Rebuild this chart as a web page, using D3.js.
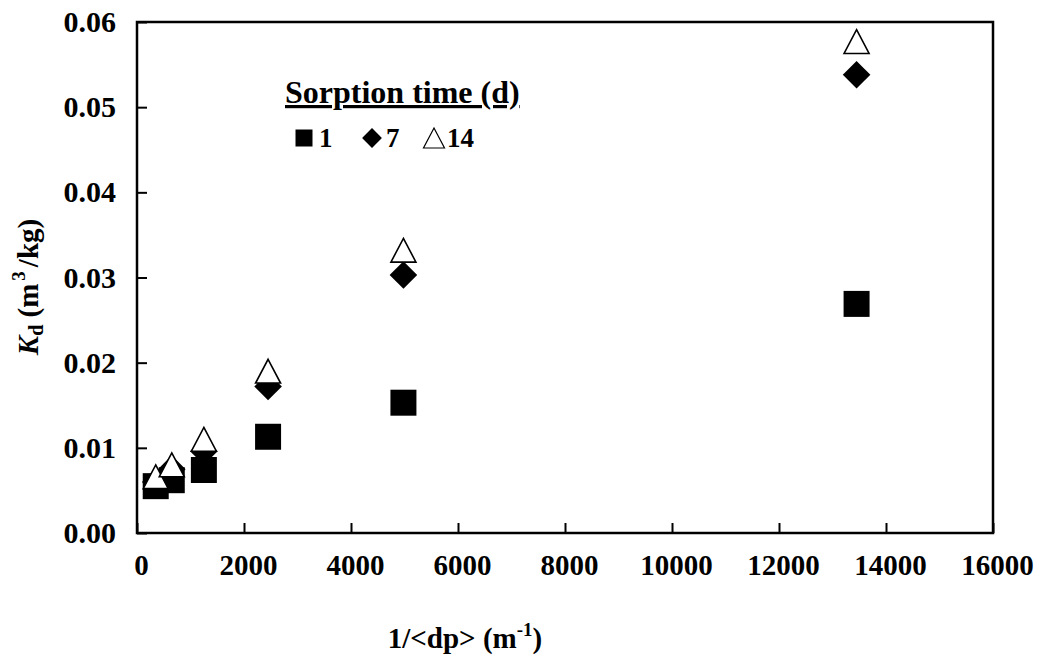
<!DOCTYPE html>
<html lang="en">
<head>
    <meta charset="UTF-8">
    <title>Kd vs 1/dp</title>
    <script src="https://d3js.org/d3.v7.min.js"></script>
    <style>
        body { margin: 0; background: #fff; }
        text { font-family: "Liberation Serif", "Times New Roman", serif; font-weight: bold; fill: #000; }
    </style>
</head>
<body>
    <div id="chart"></div>

    <script>
        // data
        var invDp = [350, 650, 1250, 2450, 4980, 13450];
        var kd1  = [0.0055, 0.0062, 0.0074, 0.0113, 0.0153, 0.0269];
        var kd7  = [0.0060, 0.0075, 0.0096, 0.0172, 0.0303, 0.0538];
        var kd14 = [0.0066, 0.0080, 0.0110, 0.0190, 0.0332, 0.0577];
        var xTicks = [0, 2000, 4000, 6000, 8000, 10000, 12000, 14000, 16000];
        var yTicks = [0, 0.01, 0.02, 0.03, 0.04, 0.05, 0.06];

        var W = 1038, H = 663;
        var margin = {top: 22, right: 45, bottom: 130, left: 137};
        var width = W - margin.left - margin.right,
            height = H - margin.top - margin.bottom;

        var svg = d3.select("#chart").append("svg")
            .attr("width", W)
            .attr("height", H);

        var g = svg.append("g")
            .attr("transform", "translate(" + margin.left + "," + margin.top + ")");

        var x = d3.scaleLinear().domain([0, 16000]).range([0, width]);
        var y = d3.scaleLinear().domain([0, 0.06]).range([height, 0]);

        // x axis, ticks pointing inward
        var xAxis = g.append("g")
            .attr("transform", "translate(0," + height + ")")
            .call(d3.axisBottom(x).tickValues(xTicks).tickSizeInner(-10).tickSizeOuter(0)
                .tickPadding(20).tickFormat(d3.format("d")));
        xAxis.select(".domain").remove();
        xAxis.selectAll(".tick line").attr("stroke-width", 2);
        xAxis.selectAll(".tick text").style("font-size", "29px").attr("dx", 4).attr("dy", "0.75em");

        var yAxis = g.append("g")
            .call(d3.axisLeft(y).tickValues(yTicks).tickSizeInner(-10).tickSizeOuter(0)
                .tickPadding(21).tickFormat(d3.format(".2f")));
        yAxis.select(".domain").remove();
        yAxis.selectAll(".tick line").attr("stroke-width", 2);
        yAxis.selectAll(".tick text").style("font-size", "30px");

        // frame
        g.append("rect")
            .attr("width", width)
            .attr("height", height)
            .attr("fill", "none")
            .attr("stroke", "#000")
            .attr("stroke-width", 2.5);

        function tri(s) {
            var h = s * 0.95;
            return "M0," + (-h / 2) + "L" + (s / 2) + "," + (h / 2) + "L" + (-s / 2) + "," + (h / 2) + "Z";
        }
        var squarePath = d3.symbol().type(d3.symbolSquare).size(26 * 26)();
        var diamondPath = d3.symbol().type(d3.symbolSquare).size(19.5 * 19.5)();

        g.selectAll(".s1").data(invDp).enter().append("path")
            .attr("class", "s1")
            .attr("d", squarePath)
            .attr("transform", function(d, i) { return "translate(" + x(d) + "," + y(kd1[i]) + ")"; })
            .attr("fill", "#000");

        g.selectAll(".s7").data(invDp).enter().append("path")
            .attr("class", "s7")
            .attr("d", diamondPath)
            .attr("transform", function(d, i) { return "translate(" + x(d) + "," + y(kd7[i]) + ") rotate(45)"; })
            .attr("fill", "#000");

        g.selectAll(".s14").data(invDp).enter().append("path")
            .attr("class", "s14")
            .attr("d", tri(25))
            .attr("transform", function(d, i) { return "translate(" + x(d) + "," + y(kd14[i]) + ")"; })
            .attr("fill", "#fff")
            .attr("stroke", "#000")
            .attr("stroke-width", 1.6);

        // legend
        var leg = svg.append("g");
        leg.append("text")
            .attr("x", 285).attr("y", 103)
            .style("font-size", "32px")
            .style("text-decoration", "underline")
            .text("Sorption time (d)");

        var legItems = [
            {label: "1", lx: 304, tx: 319},
            {label: "7", lx: 372, tx: 386},
            {label: "14", lx: 434, tx: 447}
        ];
        leg.append("path").attr("d", d3.symbol().type(d3.symbolSquare).size(17 * 17)())
            .attr("transform", "translate(" + legItems[0].lx + ",138)").attr("fill", "#000");
        leg.append("path").attr("d", d3.symbol().type(d3.symbolSquare).size(14 * 14)())
            .attr("transform", "translate(" + legItems[1].lx + ",138) rotate(45)").attr("fill", "#000");
        leg.append("path").attr("d", tri(21))
            .attr("transform", "translate(" + legItems[2].lx + ",138)")
            .attr("fill", "#fff").attr("stroke", "#000").attr("stroke-width", 1.2);
        leg.selectAll(".lt").data(legItems).enter().append("text")
            .attr("class", "lt")
            .attr("x", function(d) { return d.tx; })
            .attr("y", 147)
            .style("font-size", "27px")
            .text(function(d) { return d.label; });

        // axis titles
        var yl = svg.append("text")
            .attr("transform", "translate(38,287) rotate(-90)")
            .attr("text-anchor", "middle")
            .style("font-size", "29px");
        yl.append("tspan").style("font-style", "italic").text("K");
        yl.append("tspan").attr("dy", 5).style("font-size", "20px").text("d");
        yl.append("tspan").attr("dy", -5).text(" (m");
        yl.append("tspan").attr("dx", 3).attr("dy", -13).style("font-size", "19px").text("3");
        yl.append("tspan").attr("dx", 4).attr("dy", 13).text("/kg)");

        var xl = svg.append("text")
            .attr("x", 465)
            .attr("y", 648)
            .attr("text-anchor", "middle")
            .style("font-size", "29px");
        xl.append("tspan").text("1/<dp> (m");
        xl.append("tspan").attr("dy", -12).style("font-size", "19px").text("-1");
        xl.append("tspan").attr("dy", 12).text(")");
    </script>
</body>
</html>
